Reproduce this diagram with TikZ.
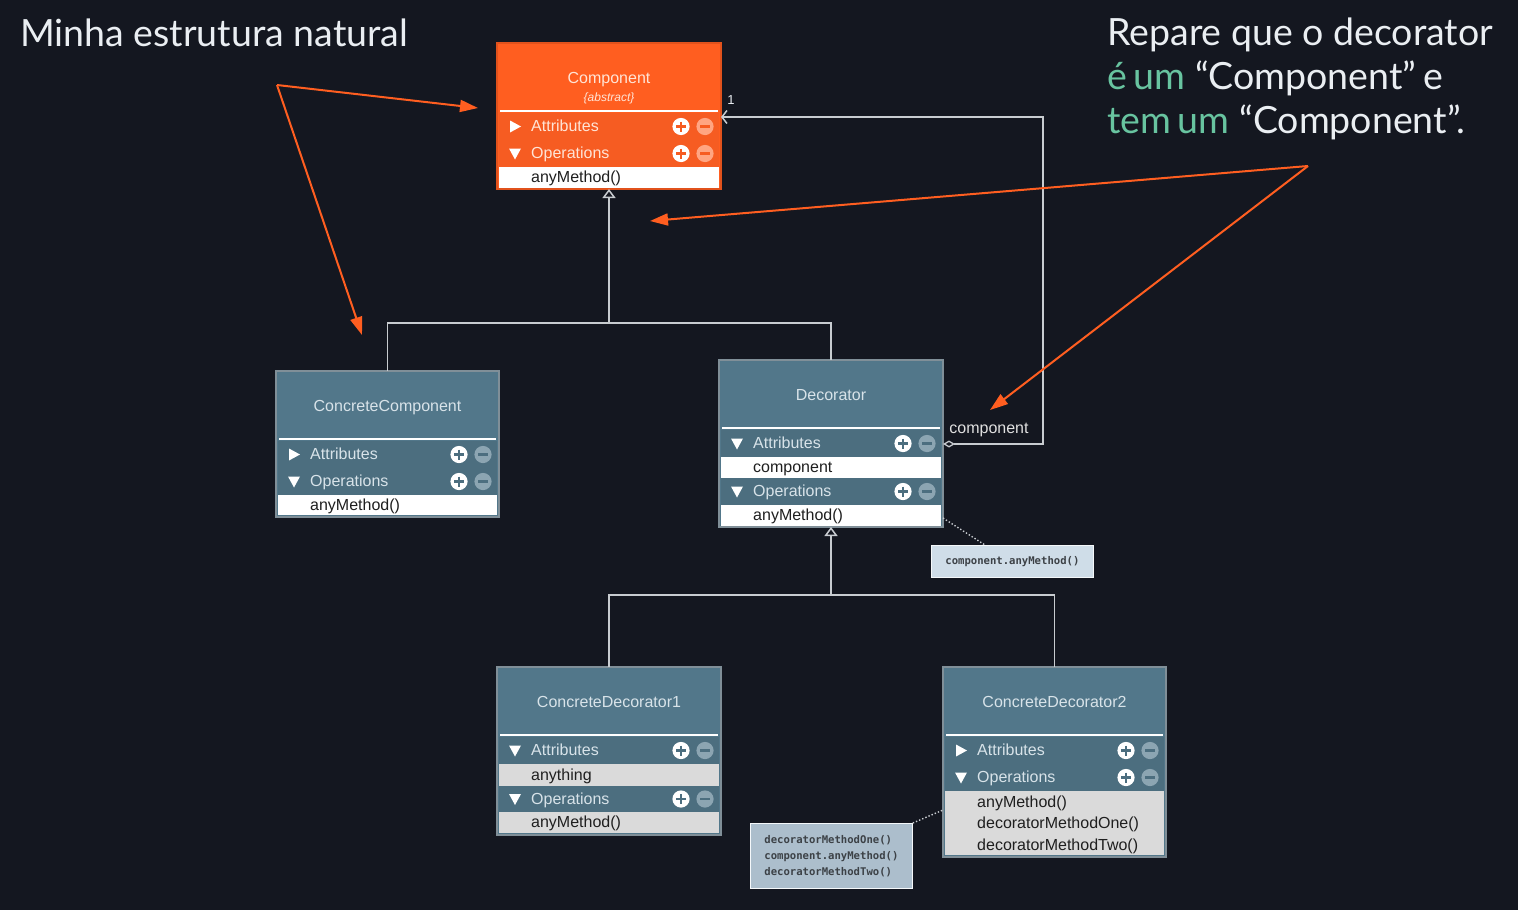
\documentclass[tikz,border=0pt]{standalone}
\usepackage{fontspec}
\setmainfont{Liberation Sans}
\newfontfamily\latofont{Lato}
\setmonofont{DejaVu Sans Mono}
\usetikzlibrary{arrows.meta}

\definecolor{bgcol}{RGB}{20,23,32}
\definecolor{orng}{RGB}{255,94,32}
\definecolor{orngrow}{RGB}{246,92,34}
\definecolor{orngdraw}{RGB}{225,82,28}
\definecolor{orngminus}{RGB}{255,165,130}
\definecolor{orngtxt}{RGB}{255,228,214}
\definecolor{bluehdr}{RGB}{82,119,138}
\definecolor{bluerow}{RGB}{76,110,127}
\definecolor{bluedraw}{RGB}{128,143,152}
\definecolor{blueminus}{RGB}{140,165,178}
\definecolor{bluetxt}{RGB}{216,227,233}
\definecolor{itemgray}{RGB}{218,218,218}
\definecolor{linecol}{RGB}{200,204,208}
\definecolor{tealtxt}{RGB}{104,196,160}
\definecolor{titletxt}{RGB}{234,238,242}
\definecolor{noteone}{RGB}{207,221,232}
\definecolor{notetwo}{RGB}{172,190,204}
\definecolor{notetxt}{RGB}{60,65,70}

\newcommand{\rtri}[2]{\fill[white] (#1-5,#2-6) -- (#1-5,#2+6) -- (#1+6,#2) -- cycle;}
\newcommand{\dtri}[2]{\fill[white] (#1-6,#2-5) -- (#1+6,#2-5) -- (#1,#2+6) -- cycle;}

% name, x1, y1, x2, y2, fill, draw
\newcommand{\umlbox}[7]{%
  \node[draw=#7, line width=1.2, fill=#6, anchor=north west, inner sep=0pt,
        outer sep=0pt, minimum width={#4-#2}, minimum height={#5-#3}] (#1) at (#2,#3) {};
  \draw[white, line width=2] (#2+3,#3+68) -- (#4-3,#3+68);
}
% x1, x2, y1, y2, label, icon, rowcolor, minuscolor, textcolor
\newcommand{\secrow}[9]{%
  \fill[#7] (#1+2,#3) rectangle (#2-2,#4);
  \draw[black!20!#7, line width=0.6] (#1+2,#4) -- (#2-2,#4);
  \pgfmathsetmacro\ym{(#3+#4)/2}%
  #6{#1+18}{\ym}%
  \node[rowtext, text=#9] at (#1+34,\ym+1.2) {#5};
  \fill[white] (#2-40,\ym) circle[radius=8.6pt];
  \draw[#7, line width=2.4] (#2-45,\ym) -- (#2-35,\ym) (#2-40,\ym-5) -- (#2-40,\ym+5);
  \fill[#8] (#2-16,\ym) circle[radius=8.6pt];
  \draw[#7, line width=2.4] (#2-21,\ym) -- (#2-11,\ym);
}
% x1, x2, y1, y2, fill, text
\newcommand{\itemrow}[6]{%
  \fill[#5] (#1+2,#3) rectangle (#2-2,#4);
  \node[itemtext] at (#1+34,{(#3+#4)/2+1}) {#6};
}

\tikzset{
  rowtext/.style={anchor=west, inner sep=0pt, font=\fontsize{16}{18}\selectfont,
                  text height=11.5pt, text depth=3pt},
  itemtext/.style={anchor=west, inner sep=0pt, text=black!88,
                   font=\fontsize{16}{18}\selectfont, text height=11.5pt, text depth=3pt},
  hdrtext/.style={anchor=base, inner sep=0pt, text=bluetxt, font=\fontsize{16}{18}\selectfont},
  gen/.style={draw=linecol, line width=1.5},
  genarrow/.style={gen, -{Triangle[open, length=9pt, width=13pt, line width=1.5pt]}},
  agg/.style={draw=linecol, line width=1.5,
     {Diamond[length=12pt, width=7pt, fill=bgcol, line width=1.3pt]}-{Straight Barb[length=5pt, width=13pt, line width=1.5pt]}},
  notelink/.style={draw=linecol, line width=1.4, dotted},
  oarrow/.style={draw=orng, line width=2, -{Triangle[length=18pt, width=12pt]}},
  note/.style={anchor=north west, inner sep=0pt, draw=white!80!noteone, line width=0.8,
               text=notetxt, font=\ttfamily\bfseries\fontsize{10.6}{16}\selectfont, align=left},
  bigtxt/.style={anchor=base west, inner sep=0pt, text=titletxt,
                 font=\latofont\fontsize{37.5}{44}\selectfont},
}

\begin{document}
\begin{tikzpicture}[x=1pt, y=-1pt]
\useasboundingbox (0,0) rectangle (1518,910);
\fill[bgcol] (0,0) rectangle (1518,910);

% ---------- Component ----------
\umlbox{comp}{497}{43}{721}{189}{orng}{orngdraw}
\node[hdrtext, text=orngtxt] (compt) at (609,83) {Component};
\node[hdrtext, text=orngtxt, font=\itshape\fontsize{12}{14}\selectfont] (compa) at (609,101) {\{abstract\}};
\secrow{497}{721}{113}{140}{Attributes}{\rtri}{orngrow}{orngminus}{orngtxt}
\secrow{497}{721}{140}{167}{Operations}{\dtri}{orngrow}{orngminus}{orngtxt}
\itemrow{497}{721}{167}{188}{white}{anyMethod()}

% ---------- ConcreteComponent ----------
\umlbox{cc}{276}{371}{499}{517}{bluehdr}{bluedraw}
\node[hdrtext] (cct) at (387.5,411) {ConcreteComponent};
\secrow{276}{499}{441}{468}{Attributes}{\rtri}{bluerow}{blueminus}{bluetxt}
\secrow{276}{499}{468}{495}{Operations}{\dtri}{bluerow}{blueminus}{bluetxt}
\itemrow{276}{499}{495}{515}{white}{anyMethod()}

% ---------- Decorator ----------
\umlbox{dec}{719}{360}{943}{527}{bluehdr}{bluedraw}
\node[hdrtext] (dect) at (831,400) {Decorator};
\secrow{719}{943}{430}{457}{Attributes}{\dtri}{bluerow}{blueminus}{bluetxt}
\itemrow{719}{943}{457}{478}{white}{component}
\secrow{719}{943}{478}{505}{Operations}{\dtri}{bluerow}{blueminus}{bluetxt}
\itemrow{719}{943}{505}{526}{white}{anyMethod()}

% ---------- ConcreteDecorator1 ----------
\umlbox{cd1}{497}{667}{721}{835}{bluehdr}{bluedraw}
\node[hdrtext] (cd1t) at (609,707) {ConcreteDecorator1};
\secrow{497}{721}{737}{764}{Attributes}{\dtri}{bluerow}{blueminus}{bluetxt}
\itemrow{497}{721}{764}{786}{itemgray}{anything}
\secrow{497}{721}{786}{812}{Operations}{\dtri}{bluerow}{blueminus}{bluetxt}
\itemrow{497}{721}{812}{833}{itemgray}{anyMethod()}

% ---------- ConcreteDecorator2 ----------
\umlbox{cd2}{943}{667}{1166}{857}{bluehdr}{bluedraw}
\node[hdrtext] (cd2t) at (1054.5,707) {ConcreteDecorator2};
\secrow{943}{1166}{737}{764}{Attributes}{\rtri}{bluerow}{blueminus}{bluetxt}
\secrow{943}{1166}{764}{791}{Operations}{\dtri}{bluerow}{blueminus}{bluetxt}
\fill[itemgray] (945,791) rectangle (1164,855);
\node[itemtext] (m1) at (977,803) {anyMethod()};
\node[itemtext] (m2) at (977,824.5) {decoratorMethodOne()};
\node[itemtext] (m3) at (977,846) {decoratorMethodTwo()};

% ---------- notes ----------
\node[note, fill=noteone, minimum width=162, minimum height=32] (n1) at (931,545)
  {component.anyMethod()};
\node[note, fill=notetwo, minimum width=162, minimum height=65] (n2) at (750,823)
  {decoratorMethodOne()\\component.anyMethod()\\decoratorMethodTwo()};

% ---------- generalizations ----------
\coordinate (j1) at (609,323);
\draw[gen] (cc.north) |- (j1) -| (dec.north);
\draw[genarrow] (j1) -- (comp.south);
\coordinate (j2) at (831,595);
\draw[gen] (cd1.north) |- (j2) -| (cd2.north);
\draw[genarrow] (j2) -- (dec.south);

% ---------- aggregation ----------
\draw[agg] (dec.east |- 0,444) -- ++(100,0) |- (comp.east |- 0,117);
\node[inner sep=0pt, text=titletxt, font=\fontsize{13}{15}\selectfont] (mult) at (731,100) {1};
\node[inner sep=0pt, anchor=base, text=white!88!black, font=\fontsize{16}{18}\selectfont] (role) at (989,433) {component};

% ---------- note links ----------
\draw[notelink] (dec.east |- 0,518) -- (985,0 |- n1.north);
\draw[notelink] (n2.north east) -- (cd2.west |- 0,810);

% ---------- annotations ----------
\node[bigtxt] (title) at (20,46) {Minha estrutura natural};
\node[bigtxt] (r1) at (1107,45) {Repare que o decorator};
\node[bigtxt] (r2) at (1107,89) {\textcolor{tealtxt}{é\kern0.18em um} “Component”\kern0.18em e};
\node[bigtxt] (r3) at (1107,133) {\textcolor{tealtxt}{tem\kern0.18em um} “Component”.};

\coordinate (o1) at (277,85);
\coordinate (t1) at (478,108);
\coordinate (t2) at (362,335);
\coordinate (o2) at (1308,166);
\coordinate (t3) at (650,221);
\coordinate (t4) at (990,410);
\draw[oarrow] (o1) -- (t1);
\draw[oarrow] (o1) -- (t2);
\draw[oarrow] (o2) -- (t3);
\draw[oarrow] (o2) -- (t4);
\end{tikzpicture}
\end{document}
